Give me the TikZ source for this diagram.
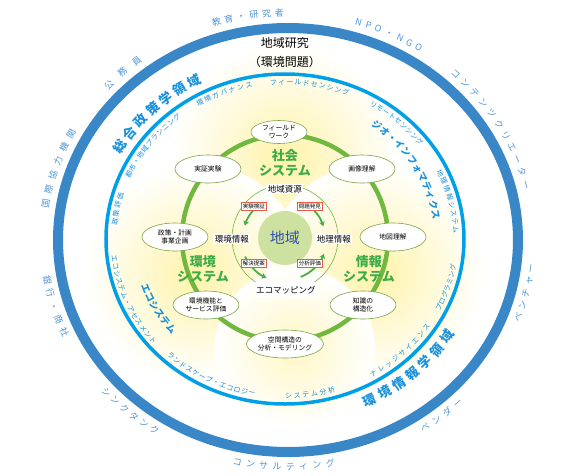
\documentclass[tikz,border=0pt]{standalone}
\usepackage{fontspec}
\setmainfont{Noto Sans CJK JP}
\usetikzlibrary{shapes.geometric,decorations.text,arrows.meta}

\definecolor{ringblue}{RGB}{58,135,200}
\definecolor{ringcyan}{RGB}{0,160,233}
\definecolor{outertext}{RGB}{80,150,215}
\definecolor{fieldblue}{RGB}{25,145,220}
\definecolor{ringgreen}{RGB}{112,185,62}
\definecolor{sysgreen}{RGB}{60,172,72}
\definecolor{nodeline}{RGB}{120,165,70}
\definecolor{chiikifill}{RGB}{205,225,160}
\definecolor{chiikitext}{RGB}{50,80,170}
\definecolor{boxred}{RGB}{232,92,70}
\definecolor{glow}{RGB}{255,243,170}

\newcommand{\ringlabel}[7][-3pt]{%
  \path[decorate,decoration={text along path,text align={fit to path},raise=#1,text={|#6|#7}}]
    (#4:#2 and #3) arc[start angle=#4,end angle=#5,x radius=#2,y radius=#3];}

\begin{document}
\begin{tikzpicture}[x=1pt,y=1pt,
  skill/.style={ellipse,draw=nodeline,fill=white,line width=0.6pt,minimum width=66,minimum height=28,inner sep=0pt,align=center,font=\fontsize{6.8}{8.2}\selectfont},
  system/.style={align=center,text=sysgreen,font=\fontsize{13}{14.5}\selectfont\bfseries},
  flowlabel/.style={fill=white,inner sep=1.5pt,font=\fontsize{8.5}{10}\selectfont},
  stepbox/.style={draw=boxred,fill=white,line width=0.6pt,inner sep=1.6pt,font=\fontsize{5.5}{6}\selectfont},
  flow/.style={sysgreen!80!ringgreen,line width=1.8pt,-{Stealth[length=5pt,width=6pt]}}]

\useasboundingbox (-285,-237) rectangle (299,238);

\shade[inner color=glow,outer color=white] (0,80) circle (115);
\shade[inner color=glow,outer color=white] (-90,-35) circle (110);
\shade[inner color=glow,outer color=white] (90,-35) circle (110);
\shade[inner color=glow!70!white,outer color=white] (10,-110) circle (80);

\draw[ringblue,line width=10pt] (3,-2) ellipse [x radius=230,y radius=212];
\draw[ringcyan,line width=3.5pt] (0,-1) ellipse [x radius=179,y radius=165];
\draw[ringgreen,line width=4.5pt] (0,0) circle (103);
\draw[ringgreen,line width=0.6pt] (0,0) circle (53);

\node[font=\fontsize{12}{13}\selectfont] (title) at (0,195) {地域研究};
\node[font=\fontsize{12}{13}\selectfont] (issue) at (0,176) {（環境問題）};

\begin{scope}[shift={(3,-2)}]
\ringlabel{245}{227}{108}{91}{\fontsize{9}{9}\selectfont\color{outertext}}{教育・研究者}
\ringlabel{245}{227}{74}{57}{\fontsize{9}{9}\selectfont\color{outertext}}{NPO・NGO}
\ringlabel{245}{227}{48}{13}{\fontsize{9}{9}\selectfont\color{outertext}}{コンテンツクリエーター}
\ringlabel{245}{227}{-21}{-6}{\fontsize{9}{9}\selectfont\color{outertext}}{ベンチャー}
\ringlabel{245}{227}{-57}{-45}{\fontsize{9}{9}\selectfont\color{outertext}}{ベンダー}
\ringlabel{245}{227}{-103}{-79}{\fontsize{9}{9}\selectfont\color{outertext}}{コンサルティング}
\ringlabel{245}{227}{-139}{-122}{\fontsize{9}{9}\selectfont\color{outertext}}{シンクタンク}
\ringlabel{245}{227}{189}{205}{\fontsize{9}{9}\selectfont\color{outertext}}{銀行・商社}
\ringlabel{245}{227}{172}{151}{\fontsize{9}{9}\selectfont\color{outertext}}{国際協力機関}
\ringlabel{245}{227}{138}{127}{\fontsize{9}{9}\selectfont\color{outertext}}{公務員}
\end{scope}

\begin{scope}[shift={(0,-1)}]
\ringlabel[-5pt]{193}{179}{151}{116}{\fontsize{13}{13}\selectfont\bfseries\color{fieldblue}}{総合政策学領域}
\ringlabel[-5pt]{193}{179}{294}{329}{\fontsize{13}{13}\selectfont\bfseries\color{fieldblue}}{環境情報学領域}
\ringlabel[-3.5pt]{153}{142}{55}{8}{\fontsize{9.5}{10}\selectfont\bfseries\color{fieldblue}}{ジオ・インフォマティクス}
\ringlabel[-3.5pt]{149}{138}{199}{222}{\fontsize{9.5}{10}\selectfont\bfseries\color{fieldblue}}{エコシステム}
\ringlabel[-2.5pt]{171}{157}{121}{101}{\fontsize{7}{7}\selectfont\color{fieldblue}}{環境ガバナンス}
\ringlabel[-2.5pt]{171}{157}{95}{68}{\fontsize{7}{7}\selectfont\color{fieldblue}}{フィールドセンシング}
\ringlabel[-2.5pt]{171}{157}{157}{128}{\fontsize{7}{7}\selectfont\color{fieldblue}}{都市・地域プランニング}
\ringlabel[-2.5pt]{171}{157}{175}{163}{\fontsize{7}{7}\selectfont\color{fieldblue}}{政策評価}
\ringlabel[-2.5pt]{172}{158}{186}{221}{\fontsize{7}{7}\selectfont\color{fieldblue}}{エコシステム・アセスメント}
\ringlabel[-2.5pt]{171}{157}{227}{260}{\fontsize{7}{7}\selectfont\color{fieldblue}}{ランドスケープ・エコロジー}
\ringlabel[-2.5pt]{171}{157}{270}{287}{\fontsize{7}{7}\selectfont\color{fieldblue}}{システム分析}
\ringlabel[-2.5pt]{171}{157}{300}{327}{\fontsize{7}{7}\selectfont\color{fieldblue}}{ナレッジサイエンス}
\ringlabel[-2.5pt]{171}{157}{333}{350}{\fontsize{7}{7}\selectfont\color{fieldblue}}{プログラミング}
\ringlabel[-2.5pt]{171}{157}{26}{2}{\fontsize{7}{7}\selectfont\color{fieldblue}}{地理情報システム}
\ringlabel[-2.5pt]{171}{157}{60}{37}{\fontsize{7}{7}\selectfont\color{fieldblue}}{リモートセンシング}
\end{scope}

\node[skill,minimum width=56,minimum height=23] (fieldwork) at (-6,106) {フィールド\\ワーク};
\node[skill] (jissho) at (-77,69) {実証実験};
\node[skill] (gazo) at (77,69) {画像理解};
\node[skill] (seisaku) at (-110,1) {政策・計画\\事業企画};
\node[skill] (chizu) at (108,1) {地図理解};
\node[skill] (kinou) at (-79,-67) {環境機能と\\サービス評価};
\node[skill] (chishiki) at (78,-67) {知識の\\構造化};
\node[skill] (kukan) at (0,-106) {空間構造の\\分析・モデリング};

\node[system] (shakai) at (0,75) {社会\\システム};
\node[system] (kankyo) at (-82,-31) {環境\\システム};
\node[system] (joho) at (84,-31) {情報\\システム};

\node[circle,fill=chiikifill,minimum size=54,text=chiikitext,font=\fontsize{15}{16}\selectfont] (chiiki) at (0,0) {地域};

\draw[flow] (125:42) arc[start angle=125,end angle=163,radius=42];
\draw[flow] (55:40) arc[start angle=55,end angle=17,radius=40];
\draw[flow] (205:44) arc[start angle=205,end angle=245,radius=44];
\draw[flow] (292:42) arc[start angle=292,end angle=338,radius=42];

\node[flowlabel] (shigen) at (0,49) {地域資源};
\node[flowlabel] (kjoho) at (-53,-1) {環境情報};
\node[flowlabel] (cjoho) at (49,-1) {地理情報};
\node[flowlabel,inner ysep=4pt] (ecomap) at (1,-52) {エコマッピング};

\node[stepbox] (kensho) at (-31,32) {実験検証};
\node[stepbox] (hakken) at (25,32) {問題発見};
\node[stepbox] (teian) at (-31,-25) {解決提案};
\node[stepbox] (hyoka) at (25,-25) {分析評価};

\end{tikzpicture}
\end{document}
